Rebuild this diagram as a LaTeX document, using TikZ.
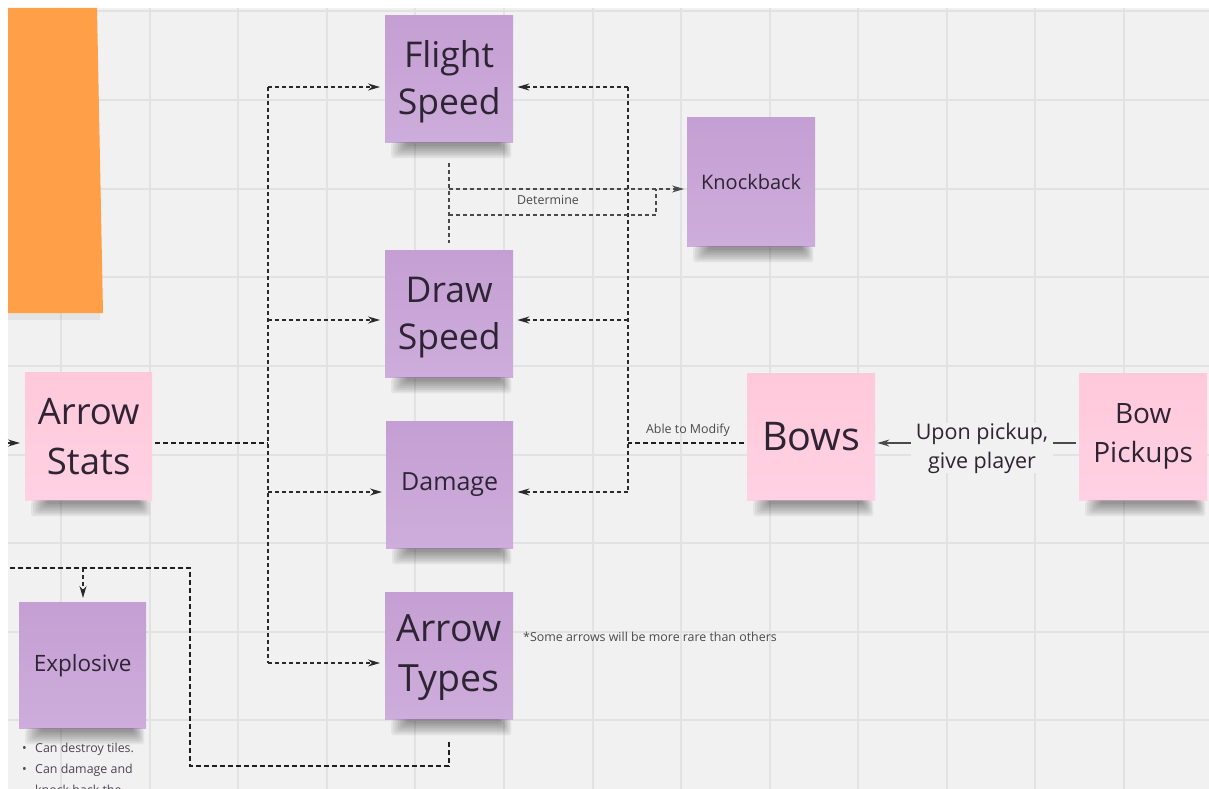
\documentclass[tikz,border=0pt]{standalone}
\usepackage{fontspec}
\setmainfont{Open Sans}
\usetikzlibrary{arrows.meta}
\definecolor{bg}{HTML}{F1F1F1}
\definecolor{gridc}{HTML}{E2E2E2}
\definecolor{purpT}{HTML}{C59FD3}
\definecolor{purpB}{HTML}{CDADDB}
\definecolor{pinkT}{HTML}{FFC9DB}
\definecolor{pinkB}{HTML}{FFD1E2}
\definecolor{orangen}{HTML}{FF9F47}
\definecolor{ink}{HTML}{2E2433}
\definecolor{lineink}{HTML}{2A2A2A}
\definecolor{labelink}{HTML}{4A4A4A}
\tikzset{
  note/.style={anchor=north west, inner sep=0pt, align=center, text=ink},
  purpnote/.style={note, top color=purpT, bottom color=purpB},
  pinknote/.style={note, top color=pinkT, bottom color=pinkB},
  thindash/.style={draw=lineink, line width=1.3pt, dash pattern=on 4pt off 3pt},
  detdash/.style={draw=labelink, line width=1.1pt, dash pattern=on 4pt off 3pt},
  thickdash/.style={draw=black!88, line width=2.4pt, dash pattern=on 5pt off 3pt},
  tip/.style={-{Stealth[length=12pt,width=7pt]}},
  smalllabel/.style={text=labelink, font=\fontsize{12.4}{15}\selectfont, inner sep=0pt},
}
\newcommand\noteshadow[1]{%
  \foreach \k in {0,...,7} {
    \fill[black,opacity=0.055,rounded corners=3pt]
      ([xshift={(6+2.2*\k)*1pt}]#1.south west) rectangle
      ([xshift={(-2-1.5*\k)*1pt},yshift={(-16+1.8*\k)*1pt}]#1.south east);
  }%
}
\begin{document}
\begin{tikzpicture}[x=1pt,y=-1pt]
\useasboundingbox (0,0) rectangle (1209,789);
\fill[white] (0,0) rectangle (1209,789);
\fill[bg] (8,8) rectangle (1209,789);
\foreach \gx in {61,150,238,327,415,504,593,681,770,858,947,1035,1124}
  \draw[gridc, line width=1.1pt] (\gx,8) -- (\gx,789);
\foreach \gy in {11,100,189,277,366,455,543,632,720}
  \draw[gridc, line width=1.1pt] (8,\gy) -- (1209,\gy);

% orange note (cut by the left edge)
\fill[black,opacity=0.05] (8,313) rectangle (100,320);
\fill[orangen] (8,8) -- (97,8) -- (103,313) -- (8,313) -- cycle;

% notes
\node[purpnote, minimum width=128pt, minimum height=127pt, font=\fontsize{35.5}{47}\selectfont] (fs) at (385,15) {\rule{0pt}{33pt}Flight\\Speed};
\node[purpnote, minimum width=128pt, minimum height=129pt, font=\fontsize{20}{24}\selectfont] (kb) at (687,117) {Knockback};
\node[purpnote, minimum width=128pt, minimum height=127pt, font=\fontsize{35.5}{47}\selectfont] (ds) at (385,250) {\rule{0pt}{33pt}Draw\\Speed};
\node[purpnote, minimum width=127pt, minimum height=127pt, font=\fontsize{25}{29}\selectfont] (dm) at (386,421) {Damage};
\node[purpnote, minimum width=128pt, minimum height=127pt, font=\fontsize{37.5}{50}\selectfont] (at) at (385,592) {\rule{0pt}{31pt}Arrow\\Types};
\node[pinknote, minimum width=127pt, minimum height=128pt, font=\fontsize{36.5}{50}\selectfont] (stats) at (25,372) {Arrow\\Stats};
\node[purpnote, minimum width=127pt, minimum height=126pt, font=\fontsize{22.5}{26}\selectfont] (ex) at (19,602) {Explosive};
\node[pinknote, minimum width=128pt, minimum height=127pt, font=\fontsize{39.5}{44}\selectfont] (bows) at (747,373) {Bows};
\node[pinknote, minimum width=128pt, minimum height=127pt, font=\fontsize{28}{39}\selectfont] (bp) at (1079,373) {Bow\\Pickups};

\foreach \n in {fs,kb,ds,dm,at,stats,ex,bows,bp} {\noteshadow{\n}}

% left bus from Arrow Stats
\coordinate (jl1) at (268,87);
\coordinate (jl2) at (268,320);
\coordinate (jl3) at (268,443);
\coordinate (jl4) at (268,492);
\coordinate (jl5) at (268,663);
\draw[thindash] (jl1) -- (jl5);
\draw[thickdash, shorten <=3pt] (stats.east |- jl3) -- (jl3);
\draw[thindash, tip, shorten >=5pt] (jl1) -- (fs.west |- jl1);
\draw[thindash, tip, shorten >=5pt] (jl2) -- (ds.west |- jl2);
\draw[thindash, tip, shorten >=4pt] (jl4) -- (dm.west |- jl4);
\draw[thindash, tip, shorten >=5pt] (jl5) -- (at.west |- jl5);

% arrow entering Arrow Stats from the left edge
\coordinate (lin) at (8,443);
\draw[thindash, tip, shorten >=5pt] (lin) -- (stats.west |- lin);

% right bus from Bows
\coordinate (jr1) at (628,87);
\coordinate (jr2) at (628,320);
\coordinate (jr3) at (628,443);
\coordinate (jr4) at (628,492);
\draw[thindash] (jr1) -- (jr4);
\draw[thickdash, shorten <=3pt] (bows.west |- jr3) -- (jr3);
\draw[thindash, tip, shorten >=4pt] (jr1) -- (fs.east |- jr1);
\draw[thindash, tip, shorten >=4pt] (jr2) -- (ds.east |- jr2);
\draw[thindash, tip, shorten >=4pt] (jr4) -- (dm.east |- jr4);
\node[smalllabel] (lblmod) at (688,430) {Able to Modify};

% Determine
\coordinate (d1) at (449,163);
\coordinate (d2) at (449,243);
\coordinate (d3) at (449,189);
\coordinate (d4) at (449,215);
\coordinate (d5) at (656,215);
\coordinate (d6) at (656,189);
\draw[detdash] (d1) -- (d2);
\draw[detdash, tip, shorten >=3pt] (d3) -- (kb.west |- d3);
\draw[detdash] (d4) -- (d5) -- (d6);
\node[smalllabel] (lbldet) at (548,200) {Determine};

% Bow Pickups -> Bows
\draw[draw=labelink, line width=1.3pt, tip, shorten <=3pt, shorten >=2pt] (bp.west |- jr3) -- (bows.east |- jr3);
\node[fill=bg, inner xsep=5pt, inner ysep=0pt, align=center, text=ink, font=\fontsize{21.5}{29}\selectfont] (lblpick) at (982,448) {Upon pickup,\\give player};

% Arrow Types -> Explosive
\coordinate (e1) at (449,742);
\coordinate (e2) at (449,766);
\coordinate (e3) at (190,766);
\coordinate (e4) at (190,568);
\coordinate (e5) at (8,568);
\coordinate (e6) at (83,568);
\draw[thickdash] (e1) -- (e2) -- (e3) -- (e4) -- (e5);
\draw[thindash, tip, shorten >=4pt] (e6) -- (e6 |- ex.north);

% notes text
\node[smalllabel, anchor=west] (rare) at (523,637) {*Some arrows will be more rare than others};
\node[anchor=north west, inner sep=0pt, align=left, text=ink!85, font=\fontsize{12.4}{21}\selectfont] (exlist) at (22,743)
  {\makebox[13pt][l]{•}Can destroy tiles.\\\makebox[13pt][l]{•}Can damage and\\\makebox[13pt][l]{}knock back the};
\end{tikzpicture}
\end{document}
